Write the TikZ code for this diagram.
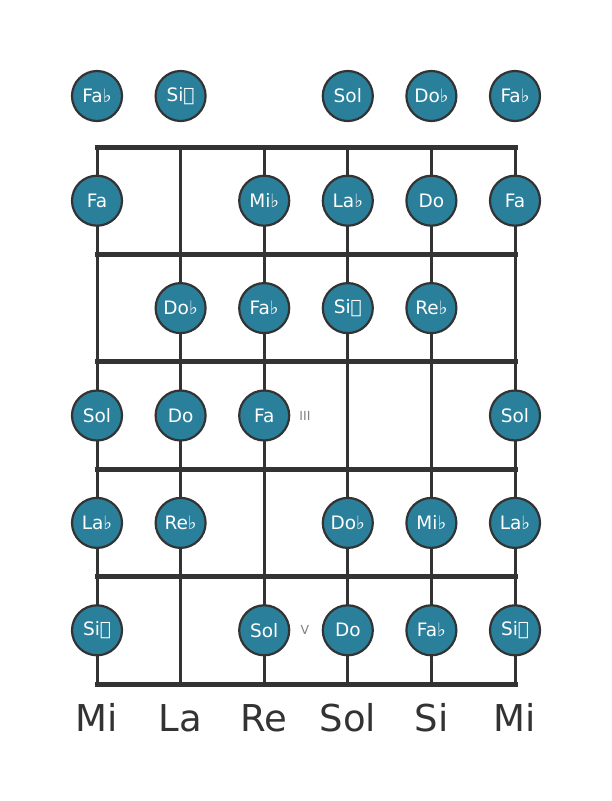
\documentclass[tikz,border=0pt]{standalone}
\usepackage{fontspec}
\setmainfont{DejaVu Sans}
\definecolor{notefill}{HTML}{2A7F9B}
\definecolor{ink}{HTML}{333333}
\definecolor{fretlbl}{HTML}{808080}
\begin{document}
\begin{tikzpicture}[x=1pt,y=-1pt,
  note/.style={circle,draw=ink,line width=2.2pt,fill=notefill,minimum size=50pt,inner sep=0pt,text=white,font=\fontsize{18.5}{19}\selectfont},
  fret/.style={ink,line width=5pt},
  string/.style={ink,line width=3pt},
  strname/.style={text=ink,font=\fontsize{37}{38}\selectfont,anchor=base},
  fretnum/.style={text=fretlbl,font=\fontsize{12.5}{13}\selectfont}]
\useasboundingbox (0,0) rectangle (611,801);
% coordinates
\foreach \i in {0,...,5} {
  \pgfmathsetmacro{\xx}{97+83.6*\i}
  \coordinate (t\i) at (\xx,147);
  \coordinate (b\i) at (\xx,684);
}
\foreach \j in {0,...,5} {
  \pgfmathsetmacro{\yy}{147+107.4*\j}
  \coordinate (fl\j) at (97,\yy);
  \coordinate (fr\j) at (515,\yy);
}
\foreach \i in {0,...,5} { \draw[string] (t\i) -- (b\i); }
\foreach \j in {0,...,5} { \draw[fret,line cap=rect] (fl\j) -- (fr\j); }
% notes
\newcommand{\fl}{♭}
\newcommand{\dfl}{𝄫}
% open row
\node[note] (o0) at (97,96) {Fa\fl};
\node[note] (o1) at (180.6,96) {Si\dfl};
\node[note] (o3) at (347.8,96) {Sol};
\node[note] (o4) at (431.4,96) {Do\fl};
\node[note] (o5) at (515,96) {Fa\fl};
% fret 1
\node[note] (a0) at (97,200.7) {Fa};
\node[note] (a2) at (264.2,200.7) {Mi\fl};
\node[note] (a3) at (347.8,200.7) {La\fl};
\node[note] (a4) at (431.4,200.7) {Do};
\node[note] (a5) at (515,200.7) {Fa};
% fret 2
\node[note] (c1) at (180.6,308.1) {Do\fl};
\node[note] (c2) at (264.2,308.1) {Fa\fl};
\node[note] (c3) at (347.8,308.1) {Si\dfl};
\node[note] (c4) at (431.4,308.1) {Re\fl};
% fret 3
\node[note] (d0) at (97,415.5) {Sol};
\node[note] (d1) at (180.6,415.5) {Do};
\node[note] (d2) at (264.2,415.5) {Fa};
\node[note] (d5) at (515,415.5) {Sol};
\node[fretnum] (n3) at (305,415.5) {III};
% fret 4
\node[note] (e0) at (97,522.9) {La\fl};
\node[note] (e1) at (180.6,522.9) {Re\fl};
\node[note] (e3) at (347.8,522.9) {Do\fl};
\node[note] (e4) at (431.4,522.9) {Mi\fl};
\node[note] (e5) at (515,522.9) {La\fl};
% fret 5
\node[note] (g0) at (97,630.3) {Si\dfl};
\node[note] (g2) at (264.2,630.3) {Sol};
\node[note] (g3) at (347.8,630.3) {Do};
\node[note] (g4) at (431.4,630.3) {Fa\fl};
\node[note] (g5) at (515,630.3) {Si\dfl};
\node[fretnum] (n5) at (305,630.3) {V};
% string names
\node[strname] (s0) at (97,731) {Mi};
\node[strname] (s1) at (180.6,731) {La};
\node[strname] (s2) at (264.2,731) {Re};
\node[strname] (s3) at (347.8,731) {Sol};
\node[strname] (s4) at (431.4,731) {Si};
\node[strname] (s5) at (515,731) {Mi};
\end{tikzpicture}
\end{document}
